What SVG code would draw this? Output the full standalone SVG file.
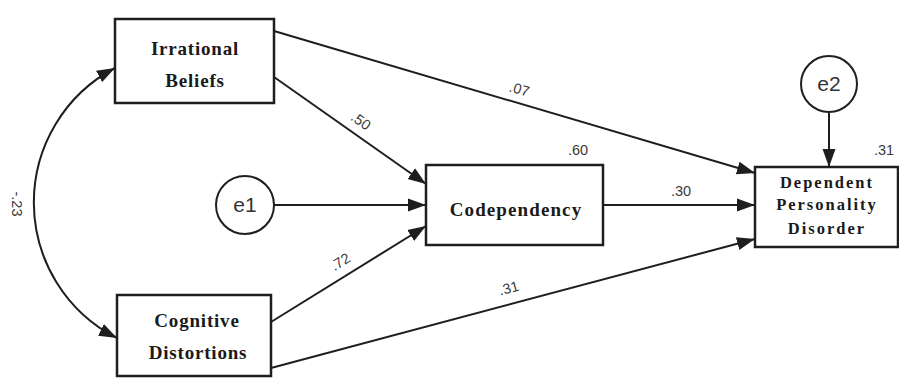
<svg xmlns="http://www.w3.org/2000/svg" width="899" height="379" viewBox="0 0 899 379">
  <style>
    .box { fill: #ffffff; stroke: #1e1e1e; stroke-width: 2.5; }
    .circ { fill: #ffffff; stroke: #1e1e1e; stroke-width: 2; }
    .lbl { font-family: "Liberation Serif", "Times New Roman", serif; font-weight: bold; font-size: 19px; letter-spacing: 0.8px; fill: #1a1a1a; text-anchor: middle; }
    .lbls { font-family: "Liberation Serif", "Times New Roman", serif; font-weight: bold; font-size: 16.5px; letter-spacing: 2px; fill: #1a1a1a; text-anchor: middle; }
    .err { font-family: "Liberation Sans", Arial, sans-serif; font-size: 21px; fill: #333333; text-anchor: middle; }
    .num { font-family: "Liberation Sans", Arial, sans-serif; font-size: 14.5px; fill: #3a3a3a; text-anchor: middle; }
    .edge { fill: none; stroke: #1e1e1e; stroke-width: 2; }
  </style>
  <defs>
    <marker id="arr" markerUnits="userSpaceOnUse" markerWidth="19" markerHeight="14" refX="18" refY="7" orient="auto-start-reverse">
      <path d="M0,0.5 L18,7 L0,13.5 Z" fill="#1e1e1e"/>
    </marker>
  </defs>
  <rect width="899" height="379" fill="#ffffff"/>

  <g id="connectors">
    <path class="edge" d="M274,31 L755,173" marker-end="url(#arr)"/>
    <path class="edge" d="M274,77 L426,184" marker-end="url(#arr)"/>
    <path class="edge" d="M273,205 L426,205" marker-end="url(#arr)"/>
    <path class="edge" d="M603,205 L755,205" marker-end="url(#arr)"/>
    <path class="edge" d="M271,322 L426,226" marker-end="url(#arr)"/>
    <path class="edge" d="M271,368 L755,239" marker-end="url(#arr)"/>
    <path class="edge" d="M829,113 L829,167" marker-end="url(#arr)"/>
    <path class="edge" d="M115,68 A152,152 0 0 0 117,338" marker-start="url(#arr)" marker-end="url(#arr)"/>
    <text class="num" transform="translate(518,94) rotate(16.4)">.07</text>
    <text class="num" transform="translate(358,125) rotate(35.6)">.50</text>
    <text class="num" transform="translate(343,266) rotate(-32)">.72</text>
    <text class="num" transform="translate(510,293) rotate(-15)">.31</text>
    <text class="num" x="681" y="196">.30</text>
    <text class="num" transform="translate(12,204) rotate(90)">-.23</text>
  </g>

  <g id="irrational-beliefs">
    <rect class="box" x="115" y="19" width="159" height="84"/>
    <text class="lbl" x="195" y="55">Irrational</text>
    <text class="lbl" x="195" y="87">Beliefs</text>
  </g>

  <g id="cognitive-distortions">
    <rect class="box" x="117" y="295" width="154" height="81"/>
    <text class="lbl" x="197" y="327">Cognitive</text>
    <text class="lbl" x="198" y="359">Distortions</text>
  </g>

  <g id="e1">
    <circle class="circ" cx="245" cy="205" r="29"/>
    <text class="err" x="245" y="212">e1</text>
  </g>

  <g id="codependency">
    <rect class="box" x="426" y="165" width="177" height="80"/>
    <text class="lbl" x="516" y="216" style="letter-spacing:1.1px">Codependency</text>
    <text class="num" x="578" y="155">.60</text>
  </g>

  <g id="e2">
    <circle class="circ" cx="829" cy="84" r="28"/>
    <text class="err" x="829" y="91">e2</text>
  </g>

  <g id="dependent-personality-disorder">
    <rect class="box" x="755" y="167" width="143" height="80"/>
    <text class="lbls" x="827" y="188">Dependent</text>
    <text class="lbls" x="827" y="210">Personality</text>
    <text class="lbls" x="827" y="234">Disorder</text>
    <text class="num" x="884" y="155">.31</text>
  </g>
</svg>
